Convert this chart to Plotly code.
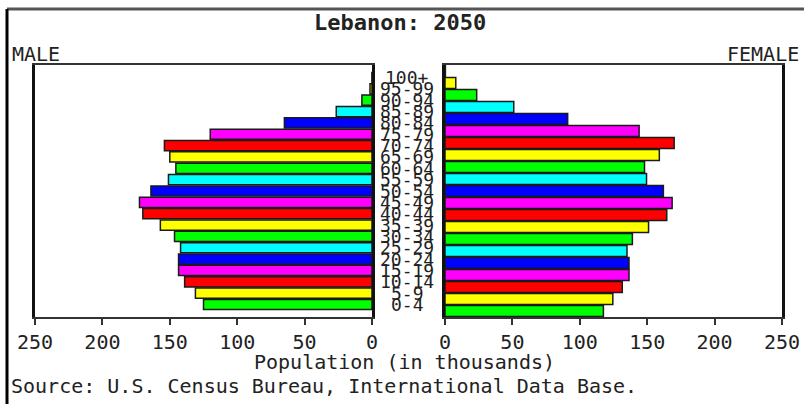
import plotly.graph_objects as go

ages = ["0-4", "5-9", "10-14", "15-19", "20-24", "25-29", "30-34", "35-39",
        "40-44", "45-49", "50-54", "55-59", "60-64", "65-69", "70-74", "75-79",
        "80-84", "85-89", "90-94", "95-99", "100+"]
male = [125, 131, 139, 143.5, 143.5, 142, 146.5, 157, 170, 172.5, 164, 151,
        145.5, 150, 154, 120, 65, 26.5, 7.5, 1.5, 0.1]
female = [117.5, 124.5, 131.5, 136.5, 136.5, 135, 139, 151, 164.5, 168.5, 162,
          149.5, 148, 159, 170, 144, 91, 51, 23.5, 8, 0.3]
palette = ["#00FF00", "#FFFF00", "#FF0000", "#FF00FF", "#0000FF", "#00FFFF"]
colors = [palette[i % len(palette)] for i in range(len(ages))]
tick_vals = [0, 50, 100, 150, 200, 250]
tick_text = ["0", "50", "100", "150", "200", "250"]

W, H = 804, 404
FONT = "DejaVu Sans Mono"
INK = "#222222"

fig = go.Figure()
fig.add_trace(go.Bar(y=ages, x=male, orientation="h", xaxis="x", yaxis="y",
                     marker=dict(color=colors, line=dict(color="#1a1a1a", width=1.5)),
                     showlegend=False))
fig.add_trace(go.Bar(y=ages, x=female, orientation="h", xaxis="x2", yaxis="y2",
                     marker=dict(color=colors, line=dict(color="#1a1a1a", width=1.5)),
                     showlegend=False))

ydom = [1 - 317 / H, 1 - 65 / H]
axis_common = dict(tickvals=tick_vals, ticktext=tick_text,
                   ticks="outside", ticklen=6, tickwidth=2, tickcolor="#333",
                   showgrid=False, zeroline=False, showline=True, linecolor="#333",
                   linewidth=2, mirror=True,
                   tickfont=dict(family=FONT, size=20, color=INK))
fig.update_layout(
    width=W, height=H, margin=dict(l=0, r=0, t=0, b=0, autoexpand=False),
    paper_bgcolor="white", plot_bgcolor="white", bargap=0.1,
    xaxis=dict(domain=[35 / W, 372 / W], anchor="y", range=[250, 0], **axis_common),
    xaxis2=dict(domain=[445 / W, 782 / W], anchor="y2", range=[0, 250], **axis_common),
    yaxis=dict(domain=ydom, anchor="x", side="right", showticklabels=False,
               ticks="", showline=True, linecolor="#111", linewidth=3, mirror=True,
               showgrid=False, type="category"),
    yaxis2=dict(domain=ydom, anchor="x2", side="left", showticklabels=False,
                ticks="", showline=True, linecolor="#111", linewidth=3, mirror=True,
                showgrid=False, type="category"),
)

for a in ages:
    fig.add_annotation(x=407 / W, xref="paper", y=a, yref="y", text=a,
                       showarrow=False, xanchor="center", yanchor="middle",
                       font=dict(family=FONT, size=18, color=INK))

fig.add_annotation(x=400 / W, y=1 - 22 / H, xref="paper", yref="paper",
                   text="<b>Lebanon: 2050</b>", showarrow=False,
                   xanchor="center", yanchor="middle",
                   font=dict(family=FONT, size=22, color=INK))
fig.add_annotation(x=10 / W, y=1 - 54 / H, xref="paper", yref="paper",
                   text="MALE", showarrow=False, xanchor="left", yanchor="middle",
                   font=dict(family=FONT, size=20, color=INK))
fig.add_annotation(x=801 / W, y=1 - 54 / H, xref="paper", yref="paper",
                   text="FEMALE", showarrow=False, xanchor="right", yanchor="middle",
                   font=dict(family=FONT, size=20, color=INK))
fig.add_annotation(x=405 / W, y=1 - 362 / H, xref="paper", yref="paper",
                   text="Population (in thousands)", showarrow=False,
                   xanchor="center", yanchor="middle",
                   font=dict(family=FONT, size=20, color=INK))
fig.add_annotation(x=9 / W, y=1 - 386 / H, xref="paper", yref="paper",
                   text="Source: U.S. Census Bureau, International Data Base.",
                   showarrow=False, xanchor="left", yanchor="middle",
                   font=dict(family=FONT, size=20, color=INK))

# page frame lines
fig.add_shape(type="line", xref="paper", yref="paper", x0=7 / W, x1=1,
              y0=1 - 9 / H, y1=1 - 9 / H, line=dict(color="#555", width=3))
fig.add_shape(type="line", xref="paper", yref="paper", x0=7 / W, x1=7 / W,
              y0=0, y1=1 - 9 / H, line=dict(color="#000", width=3))

fig.write_html("out.html", config={"displayModeBar": False},
               post_script="document.body.style.margin='0';document.body.style.overflow='hidden';")
